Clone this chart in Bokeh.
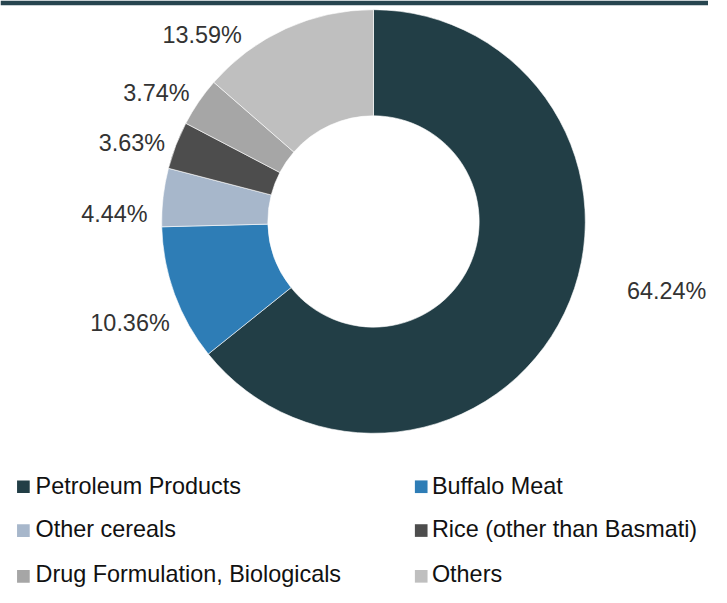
import math
from bokeh.plotting import figure
from bokeh.models import Range1d, ColumnDataSource
from bokeh.embed import file_html
from bokeh.resources import INLINE
from bokeh.core.properties import value

# ---------------- data ----------------
categories = ["Petroleum Products", "Buffalo Meat", "Other cereals",
              "Rice (other than Basmati)", "Drug Formulation, Biologicals", "Others"]
shares = [64.24, 10.36, 4.44, 3.63, 3.74, 13.59]
colors = ["#223e46", "#2e7db6", "#a7b7cb", "#4d4d4d", "#a6a6a6", "#bfbfbf"]

# ---------------- layout (reference pixel space) ----------------
REF_W, REF_H = 727, 603
S = 587 / 603
CX, CY = 383, 227
R_OUT, R_IN = 217.5, 108.5
label_pos = [(684, 307), (133, 340), (117, 228), (135, 155), (160, 103), (207, 44)]
legend_cols = [(23.5, 36), (432, 443)]          # square centre x, text x
legend_rows = [(499.5, 506.5), (544.5, 551), (591.5, 597.5)]  # square centre y, text baseline
SQ = 13
FONT = "Liberation Sans"
FS = f"{24 * S:.1f}px"
TEXT_SHIFT = -8  # screen px correction for svg baseline rendering

p = figure(width=round(REF_W * S), height=587, output_backend="svg",
           toolbar_location=None, x_range=Range1d(0, REF_W), y_range=Range1d(-REF_H, 0),
           min_border=0)
p.axis.visible = False
p.grid.visible = False
p.outline_line_color = None
p.background_fill_color = "white"

# top band
p.quad(left=[0], right=[REF_W], top=[0], bottom=[-5], color="#27454f", line_color=None)

# donut
total = sum(shares)
starts, ends = [], []
cum = 0.0
for v in shares:
    starts.append(math.pi / 2 - 2 * math.pi * cum / total)
    cum += v
    ends.append(math.pi / 2 - 2 * math.pi * cum / total)

src = ColumnDataSource(dict(start=starts, end=ends, color=colors, cat=categories))
p.annular_wedge(x=CX, y=-CY, inner_radius=R_IN, outer_radius=R_OUT,
                start_angle="start", end_angle="end", direction="clock",
                fill_color="color", line_color="white", line_width=0.6, source=src)

# data labels
lsrc = ColumnDataSource(dict(x=[a for a, b in label_pos], y=[-b for a, b in label_pos],
                             t=[f"{v:.2f}%" for v in shares]))
p.text(x="x", y="y", text="t", source=lsrc, text_align="center", text_baseline="alphabetic",
       y_offset=TEXT_SHIFT, text_font=value(FONT), text_font_size=FS, text_color="#333333")

# legend
sx, sy, tx, ty, tt = [], [], [], [], []
for i, c in enumerate(categories):
    r, col = divmod(i, 2)
    sx.append(legend_cols[col][0]); sy.append(-legend_rows[r][0])
    tx.append(legend_cols[col][1]); ty.append(-legend_rows[r][1]); tt.append(c)
p.rect(x=sx, y=sy, width=SQ, height=SQ, fill_color=colors, line_color=None)
p.text(x=tx, y=ty, text=tt, text_align="left", text_baseline="alphabetic",
       y_offset=TEXT_SHIFT, text_font=value(FONT), text_font_size=FS, text_color="#111111")

open("out.html", "w").write(file_html(p, INLINE))
